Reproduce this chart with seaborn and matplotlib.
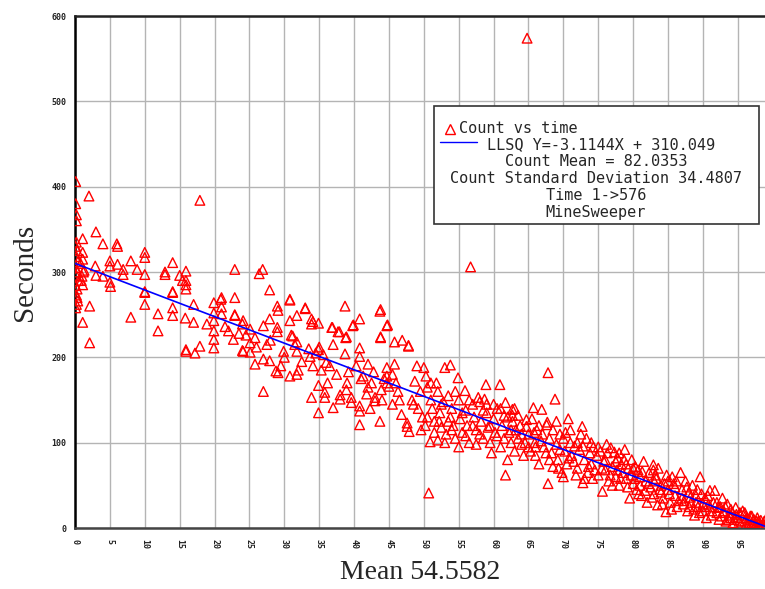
import numpy as np
import matplotlib
matplotlib.use("Agg")
import matplotlib.pyplot as plt
import seaborn as sns
import pandas as pd
from matplotlib.patches import Rectangle

# ---- data (Mean vs Seconds, MineSweeper) ----
x_band0 = [
    0.1, 0.1, 0.2, 0.2, 0.2, 0.1, 0.3, 0.2, 0.4, 0.1,
    0.3, 0.2, 0.5, 0.1, 0.3, 0.2, 0.4, 0.2, 0.1, 0.3,
    1.1, 1.1, 0.8, 1.2, 1.0, 0.9, 1.1, 1.3, 1.1, 1.1,
    2.0, 2.1, 2.1, 2.9, 3.0, 3.0, 4.0, 4.0, 5.0, 5.0,
    5.0, 5.1, 6.0, 6.1, 6.1, 6.9, 6.9, 8.0, 8.0, 8.9,
    10.0, 10.0, 10.0, 10.0, 10.0, 10.0]
y_band0 = [
    406, 380, 367, 360, 335, 330, 325, 318, 312, 305,
    300, 296, 290, 284, 280, 273, 266, 262, 258, 270,
    339, 323, 310, 300, 295, 290, 285, 302, 241, 315,
    389, 260, 217, 307, 347, 296, 333, 295, 313, 307,
    288, 283, 333, 330, 309, 303, 297, 313, 247, 303,
    323, 317, 297, 277, 276, 262]

x_band1 = [
    11.9, 11.9, 12.9, 12.9, 14.0, 14.0, 14.0, 14.0, 14.0, 15.0,
    15.4, 15.9, 15.9, 15.9, 15.9, 15.8, 15.9, 15.9, 17.0, 17.0,
    17.2, 17.9, 17.9, 18.9, 19.9, 19.9, 19.9, 19.9, 19.9, 19.9,
    21.0, 21.0, 21.0, 20.9, 22.9, 22.9, 22.9, 22.9, 22.0, 22.7,
    24.0, 24.0, 24.1, 24.1, 25.1, 25.1, 25.1, 23.5, 24.5, 21.5]
y_band1 = [
    251, 231, 300, 297, 311, 277, 276, 258, 249, 296,
    290, 301, 290, 285, 280, 246, 209, 207, 241, 262,
    205, 384, 213, 239, 264, 252, 243, 231, 221, 211,
    270, 259, 251, 268, 303, 270, 249, 250, 231, 221,
    239, 208, 243, 207, 233, 217, 206, 228, 226, 236]

x_band2 = [
    25.8, 25.8, 26.4, 26.9, 27.0, 27.0, 27.0, 27.9, 27.9, 27.9,
    28.8, 29.0, 29.0, 29.0, 29.1, 29.1, 29.9, 30.8, 30.8, 30.8,
    30.8, 31.0, 31.5, 31.8, 31.8, 31.8, 31.8, 32.0, 33.0, 33.0,
    33.7, 33.9, 33.9, 33.9, 34.1, 34.1, 34.5, 34.9, 34.9, 34.9,
    34.9, 35.0, 35.3, 35.6, 35.8, 35.8, 36.0, 36.8, 36.9, 37.0,
    37.0, 37.7, 37.9, 38.0, 38.0, 38.7, 38.7, 38.8, 38.9, 38.9,
    39.2, 39.6, 39.6, 39.8, 39.9, 40.3, 40.8, 40.8, 40.8, 40.8,
    40.8, 40.8, 41.3, 41.8, 42.0, 42.5, 42.8, 43.0, 43.0, 43.7,
    43.7, 43.8, 43.8, 43.8, 43.9, 44.3, 44.7, 44.7, 44.7, 44.7,
    44.8, 45.0, 45.5, 45.8, 45.8, 46.3, 46.8, 46.9, 47.6, 47.6,
    47.8, 47.8, 47.9, 48.3, 48.7, 49.0, 49.2, 49.5, 49.8, 49.6,
    26.0, 28.0, 30.0, 32.5, 36.5, 37.5, 41.0, 42.0, 45.5, 46.5,
    27.5, 29.5, 31.2, 33.5, 36.2, 39.0, 42.3, 44.0, 46.0, 48.5]
y_band2 = [
    223, 192, 298, 303, 237, 198, 160, 279, 245, 196,
    184, 260, 235, 230, 255, 182, 207, 268, 243, 267,
    178, 226, 215, 249, 218, 207, 180, 185, 258, 257,
    201, 245, 239, 153, 242, 190, 205, 240, 209, 167,
    135, 212, 185, 203, 159, 153, 194, 235, 235, 215,
    141, 230, 230, 156, 151, 260, 204, 223, 224, 162,
    183, 153, 147, 237, 238, 190, 245, 211, 201, 143,
    137, 121, 178, 157, 192, 170, 183, 153, 149, 254,
    125, 256, 224, 223, 162, 175, 237, 188, 178, 170,
    238, 166, 145, 218, 192, 160, 133, 220, 123, 119,
    214, 213, 113, 150, 172, 190, 140, 160, 130, 115,
    212, 220, 200, 195, 190, 180, 175, 165, 180, 150,
    215, 190, 225, 210, 170, 170, 140, 150, 170, 145]

x_band3 = [
    50.0, 50.3, 50.5, 50.7, 50.9, 51.0, 51.2, 51.5, 51.8, 52.0,
    52.0, 52.3, 52.5, 52.8, 53.0, 53.2, 53.5, 53.8, 53.8, 54.0,
    54.2, 54.5, 54.9, 55.0, 55.2, 55.5, 55.9, 56.0, 56.2, 56.5,
    56.7, 57.0, 57.2, 57.5, 57.8, 58.0, 58.2, 58.5, 58.7, 58.9,
    59.0, 59.2, 59.5, 59.7, 60.0, 60.2, 60.5, 60.9, 61.0, 61.2,
    61.5, 61.7, 61.7, 62.0, 62.2, 62.5, 62.7, 62.7, 62.7, 63.0,
    63.2, 63.5, 63.8, 64.0, 64.3, 64.7, 64.7, 64.8, 65.0, 65.0,
    50.5, 51.5, 52.5, 53.5, 54.5, 55.5, 56.5, 57.5, 58.5, 59.5,
    60.5, 61.5, 62.5, 63.5, 64.5, 50.2, 53.0, 56.0, 59.0, 62.0,
    51.0, 52.2, 54.0, 55.0, 57.0, 58.0, 60.0, 61.0, 63.0, 64.0]
y_band3 = [
    188, 178, 165, 41, 101, 150, 140, 125, 170, 103,
    160, 135, 118, 148, 188, 110, 155, 191, 130, 140,
    120, 105, 176, 150, 128, 112, 161, 138, 120, 100,
    306, 145, 130, 115, 153, 148, 125, 105, 151, 168,
    135, 118, 100, 88, 128, 112, 140, 168, 95, 120,
    105, 147, 62, 130, 112, 100, 139, 132, 125, 90,
    115, 105, 120, 98, 85, 127, 119, 574, 110, 95,
    130, 112, 145, 125, 160, 135, 150, 98, 138, 120,
    108, 132, 115, 132, 100, 120, 100, 108, 145, 80,
    170, 125, 115, 95, 120, 110, 145, 140, 140, 110]

x_band4 = [
    65.5, 65.7, 65.9, 66.0, 66.2, 66.5, 66.9, 67.2, 67.6, 67.7,
    67.8, 67.8, 68.0, 68.3, 68.5, 68.8, 69.0, 69.2, 69.5, 69.8,
    70.0, 70.2, 70.5, 70.7, 71.0, 71.2, 71.6, 72.0, 72.3, 72.7,
    72.8, 72.8, 73.0, 73.3, 73.5, 73.8, 74.0, 74.3, 74.8, 75.0,
    75.3, 75.6, 75.8, 76.0, 76.3, 76.5, 76.8, 77.0, 77.3, 77.5,
    77.8, 78.0, 78.3, 78.5, 78.8, 79.0, 79.3, 79.5, 79.8, 80.0,
    65.3, 66.5, 67.0, 68.0, 69.0, 70.0, 71.0, 72.0, 73.0, 74.0,
    75.0, 76.0, 77.0, 78.0, 79.0, 66.0, 69.5, 71.5, 74.5, 77.5,
    65.8, 66.8, 67.5, 68.5, 69.3, 70.3, 70.8, 71.8, 72.5, 73.6,
    74.2, 75.5, 76.2, 76.7, 77.7, 78.2, 78.7, 79.2, 79.7, 80.0]
y_band4 = [
    128, 141, 100, 85, 115, 75, 139, 95, 121, 124,
    182, 52, 105, 88, 72, 151, 98, 80, 110, 65,
    105, 90, 75, 128, 100, 85, 96, 70, 92, 119,
    96, 53, 80, 105, 65, 88, 75, 95, 85, 62,
    90, 43, 78, 68, 88, 55, 94, 72, 89, 60,
    82, 50, 75, 65, 92, 58, 70, 35, 80, 52,
    90, 120, 110, 80, 125, 60, 115, 100, 58, 100,
    95, 80, 50, 88, 75, 95, 92, 78, 68, 78,
    112, 102, 88, 115, 70, 112, 82, 62, 110, 72,
    58, 70, 98, 62, 68, 58, 80, 48, 62, 70]

x_band5 = [
    80.3, 80.5, 80.7, 81.0, 81.2, 81.5, 81.8, 82.0, 82.3, 82.5,
    82.9, 82.9, 83.0, 83.3, 83.5, 83.6, 84.0, 84.3, 84.7, 84.8,
    85.0, 85.3, 85.6, 85.8, 86.0, 86.3, 86.8, 87.0, 87.3, 87.5,
    87.8, 88.0, 88.3, 88.5, 88.8, 89.0, 89.3, 89.6, 89.8, 90.0,
    90.3, 90.5, 90.8, 91.0, 91.3, 91.7, 92.0, 92.3, 92.5, 92.8,
    93.0, 93.3, 93.5, 93.8, 94.0, 94.3, 94.7, 95.0, 95.3, 95.5,
    95.8, 96.0, 96.3, 96.5, 96.8, 97.0, 97.3, 97.5, 97.8, 98.0,
    98.3, 98.5, 98.8, 99.0, 81.0, 83.0, 84.0, 86.0, 87.0, 89.0,
    91.0, 93.0, 94.0, 96.0, 97.0, 98.0, 92.0, 90.0, 88.0, 85.0,
    80.2, 80.8, 81.3, 81.7, 82.2, 82.7, 83.2, 83.8, 84.2, 84.5,
    85.2, 85.5, 86.2, 86.5, 87.2, 87.7, 88.2, 88.7, 89.2, 89.5,
    90.2, 90.7, 91.2, 91.5, 92.2, 92.7, 93.2, 93.7, 94.2, 94.5,
    95.2, 95.7, 96.2, 96.7, 97.2, 97.7, 98.2, 98.7, 99.0, 94.8]
y_band5 = [
    72, 45, 68, 60, 38, 78, 55, 30, 65, 48,
    74, 68, 40, 58, 27, 70, 50, 35, 19, 62,
    45, 30, 60, 52, 38, 25, 65, 45, 32, 55,
    20, 42, 30, 50, 15, 38, 25, 60, 40, 20,
    35, 12, 28, 44, 20, 44, 30, 10, 25, 35,
    18, 8, 28, 15, 22, 6, 24, 12, 18, 5,
    15, 8, 12, 3, 14, 6, 10, 2, 12, 5,
    9, 3, 8, 4, 50, 55, 42, 48, 35, 30,
    25, 20, 12, 18, 14, 8, 18, 28, 25, 55,
    58, 40, 66, 44, 52, 36, 62, 45, 28, 52,
    40, 22, 55, 32, 28, 48, 36, 22, 45, 18,
    25, 38, 15, 30, 24, 14, 25, 10, 18, 10,
    8, 20, 5, 10, 4, 8, 2, 5, 10, 16]

mean_x = x_band0 + x_band1 + x_band2 + x_band3 + x_band4 + x_band5
seconds = y_band0 + y_band1 + y_band2 + y_band3 + y_band4 + y_band5

# fit shown in the legend
slope = -3.1144
intercept = 310.049

legend_series = "Count vs time"
legend_fit = "LLSQ Y=-3.1144X + 310.049"
legend_info = ["Count Mean = 82.0353",
               "Count Standard Deviation 34.4807",
               "Time 1->576",
               "MineSweeper"]

x_ticks = list(range(0, 100, 5))
y_ticks = list(range(0, 700, 100))

df = pd.DataFrame({"mean": mean_x, "seconds": seconds})

sns.set_theme(style="white")
fig = plt.figure(figsize=(7.65, 5.89), dpi=100)
ax = fig.add_axes([75 / 765, 61 / 589, 690 / 765, 512 / 589])

sns.scatterplot(data=df, x="mean", y="seconds", marker="^", s=48,
                facecolor="none", edgecolor="#ff0000", linewidth=1.0,
                ax=ax, zorder=3)
ax.axline((0, intercept), slope=slope, color="#0000ff", linewidth=1.2, zorder=4)

ax.set_xlim(0, 98.9)
ax.set_ylim(0, 600)
ax.set_xticks(x_ticks)
ax.set_yticks(y_ticks)
ax.set_xticklabels([str(t) for t in x_ticks], rotation=-90,
                   family="DejaVu Sans Mono", fontsize=6, fontweight="bold")
ax.set_yticklabels([str(t) for t in y_ticks],
                   family="DejaVu Sans Mono", fontsize=6, fontweight="bold")
ax.tick_params(axis="x", direction="in", length=3, width=1.2, pad=8, colors="#222222")
ax.tick_params(axis="y", direction="out", length=4, width=1.2, pad=2, colors="#222222")
ax.set_axisbelow(True)
ax.grid(True, color="#b4b4b4", linewidth=1.0)

for side in ["left", "top", "bottom"]:
    ax.spines[side].set_visible(True)
    ax.spines[side].set_linewidth(1.8)
ax.spines["left"].set_color("#000000")
ax.spines["top"].set_color("#222222")
ax.spines["bottom"].set_color("#444444")
ax.spines["right"].set_visible(False)

ax.set_xlabel("Mean 54.5582", family="Liberation Serif", fontsize=20, labelpad=8)
ax.set_ylabel("Seconds", family="Liberation Serif", fontsize=21)
ax.yaxis.set_label_coords(-0.054, 0.5)

# legend box
ax.add_patch(Rectangle((0.520, 0.593), 0.471, 0.231, transform=ax.transAxes,
                       facecolor="white", edgecolor="#333333", linewidth=1.2, zorder=6))
ax.plot([0.543], [0.780], marker="^", markersize=7, markerfacecolor="none",
        markeredgecolor="#ff0000", markeredgewidth=1.0, transform=ax.transAxes, zorder=7)
ax.text(0.557, 0.781, legend_series, transform=ax.transAxes, ha="left", va="center",
        family="DejaVu Sans Mono", fontsize=11, zorder=7)
ax.plot([0.529, 0.583], [0.754, 0.754], color="#0000ff", linewidth=1.0,
        transform=ax.transAxes, zorder=7)
ax.text(0.597, 0.749, legend_fit, transform=ax.transAxes, ha="left", va="center",
        family="DejaVu Sans Mono", fontsize=11, zorder=7)
for i, line in enumerate(legend_info):
    ax.text(0.755, 0.715 - i * 0.033, line, transform=ax.transAxes, ha="center",
            va="center", family="DejaVu Sans Mono", fontsize=11, zorder=7)

fig.savefig("out.png", dpi=100)
